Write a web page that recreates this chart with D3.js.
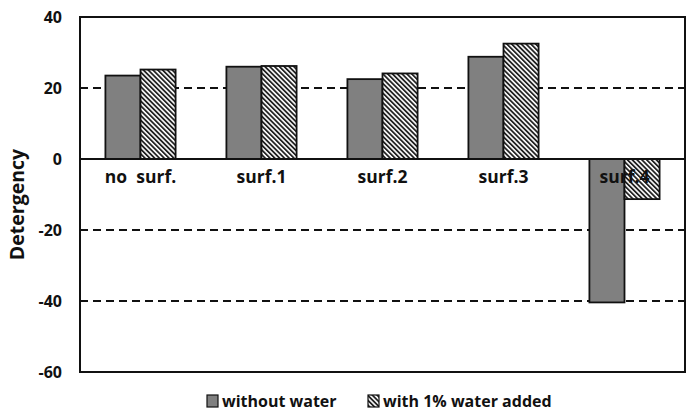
<!DOCTYPE html>
<html><head><meta charset="utf-8">
<script src="https://cdn.jsdelivr.net/npm/d3@7"></script>
<style>body{margin:0;background:#fff}svg{display:block}text{font-family:"Open Sans","DejaVu Sans",sans-serif;font-weight:bold;fill:#111}</style>
</head><body><svg id="c" width="690" height="416"></svg>
<script>
const categories = ["no  surf.", "surf.1", "surf.2", "surf.3", "surf.4"];
const seriesNames = ["without water", "with 1% water added"];
const withoutWater = [23.5, 26.0, 22.5, 28.8, -40.4];
const withWater = [25.2, 26.2, 24.1, 32.5, -11.3];
const yTicks = [40, 20, 0, -20, -40, -60];
const gridValues = [20, -20, -40];

const svg = d3.select("#c");
const m = {l: 80, r: 685, t: 17, b: 372};
const x = d3.scaleBand().domain(categories).range([m.l, m.r]).paddingInner(0.42).paddingOuter(0.21);
const xs = d3.scaleBand().domain([0, 1]).range([0, x.bandwidth()]);
const y = d3.scaleLinear().domain([-60, 40]).range([m.b, m.t]);

const defs = svg.append("defs");
const pat = defs.append("pattern").attr("id", "hatch").attr("patternUnits", "userSpaceOnUse")
  .attr("width", 3.4).attr("height", 3.4).attr("patternTransform", "rotate(-45)");
pat.append("rect").attr("width", 3.4).attr("height", 3.4).attr("fill", "#fff");
pat.append("rect").attr("x", 0).attr("width", 1.8).attr("height", 3.4).attr("fill", "#222");

// grid
svg.append("g").selectAll("line").data(gridValues).join("line")
  .attr("x1", m.l).attr("x2", m.r).attr("y1", d => y(d)).attr("y2", d => y(d))
  .attr("stroke", "#111").attr("stroke-width", 2).attr("stroke-dasharray", "8,5");

const series = [withoutWater, withWater];
const fills = ["#808080", "url(#hatch)"];
series.forEach((vals, si) => {
  svg.append("g").selectAll("rect").data(vals).join("rect")
    .attr("x", (d, i) => x(categories[i]) + xs(si))
    .attr("width", xs.bandwidth())
    .attr("y", d => y(Math.max(0, d)))
    .attr("height", d => Math.abs(y(d) - y(0)))
    .attr("fill", fills[si]).attr("stroke", "#111").attr("stroke-width", 1.8);
});

// zero line
svg.append("line").attr("x1", m.l).attr("x2", m.r).attr("y1", y(0)).attr("y2", y(0))
  .attr("stroke", "#111").attr("stroke-width", 2.2);
// frame
svg.append("rect").attr("x", m.l).attr("y", m.t).attr("width", m.r - m.l).attr("height", m.b - m.t)
  .attr("fill", "none").attr("stroke", "#111").attr("stroke-width", 2);

// y tick labels
svg.append("g").selectAll("text").data(yTicks).join("text")
  .attr("x", 62).attr("y", d => y(d)).attr("dy", "0.35em").attr("text-anchor", "end")
  .attr("font-size", 16).text(d => d);

// category labels
svg.append("g").selectAll("text").data(categories).join("text")
  .attr("x", d => x(d) + x.bandwidth() / 2).attr("y", y(0) + 24).attr("text-anchor", "middle")
  .attr("font-size", 17.5).style("white-space", "pre").text(d => d);

// y axis title
svg.append("text").attr("transform", `translate(24,${(m.t + m.b) / 2 + 10}) rotate(-90)`)
  .attr("text-anchor", "middle").attr("font-size", 19.5).text("Detergency");

// legend
const leg = svg.append("g");
const legX = [207, 368];
seriesNames.forEach((n, i) => {
  leg.append("rect").attr("x", legX[i]).attr("y", 395).attr("width", 11).attr("height", 12)
    .attr("fill", fills[i]).attr("stroke", "#111").attr("stroke-width", 1.2);
  leg.append("text").attr("x", legX[i] + 15).attr("y", 407).attr("font-size", 16).text(n);
});
</script></body></html>
